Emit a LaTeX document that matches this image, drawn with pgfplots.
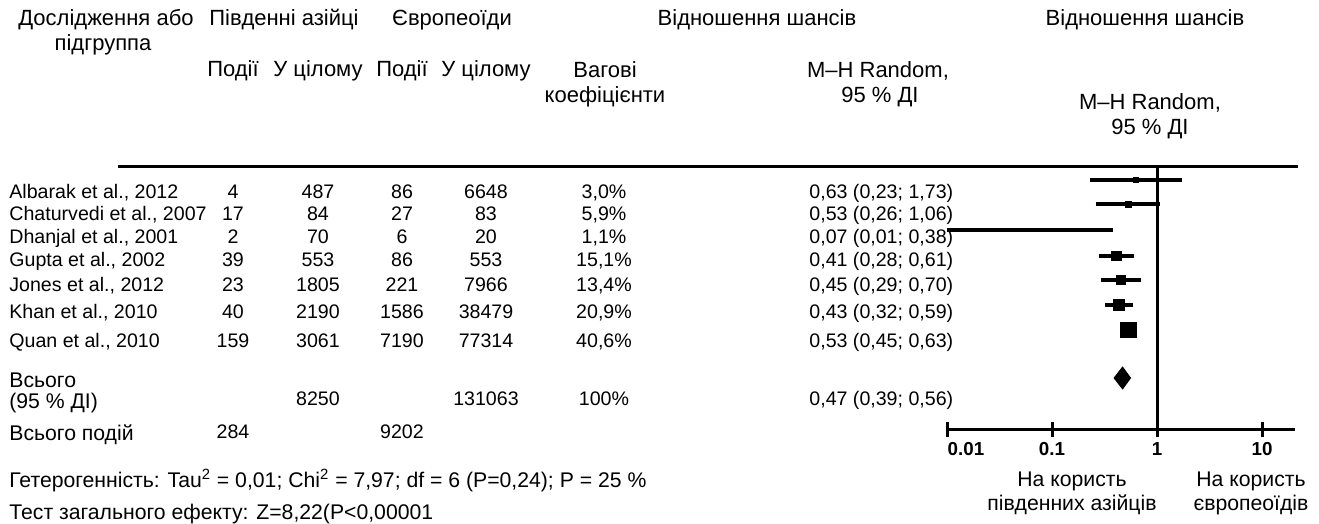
\documentclass[border=0pt]{standalone}
\usepackage{pgfplots}
\pgfplotsset{compat=1.18}
\usepackage{fontspec}
\setmainfont{Liberation Sans}

\begin{document}
\begin{tikzpicture}[x=0.5pt,y=-0.5pt,
  hd/.style={font=\fontsize{11}{13}\selectfont, inner sep=0pt},
  lb/.style={font=\fontsize{10.6}{12}\selectfont, inner sep=0pt},
  tx/.style={font=\fontsize{9.8}{11}\selectfont, inner sep=0pt}]
\path (0,0) rectangle (1319,523);

% column headers
\node[hd, anchor=mid] at (106,20) {Дослідження або};
\node[hd, anchor=mid] at (103,45) {підгруппа};
\node[hd, anchor=mid] at (284,20) {Південні азійці};
\node[hd, anchor=mid] at (452,20) {Європеоїди};
\node[hd, anchor=mid] at (757,20) {Відношення шансів};
\node[hd, anchor=mid] at (1145,20) {Відношення шансів};
\node[hd, anchor=mid] at (233,71) {Події};
\node[hd, anchor=mid] at (318,71) {У цілому};
\node[hd, anchor=mid] at (402,71) {Події};
\node[hd, anchor=mid] at (486,71) {У цілому};
\node[hd, anchor=mid] at (605,72) {Вагові};
\node[hd, anchor=mid] at (605,97) {коефіцієнти};
\node[hd, anchor=mid] at (878,72) {M--H Random,};
\node[hd, anchor=mid] at (880,97) {95 \% ДІ};
\node[hd, anchor=mid] at (1150,104) {M--H Random,};
\node[hd, anchor=mid] at (1150,129) {95 \% ДІ};

% study rows
\foreach \yy/\name/\ea/\ta/\eb/\tb/\wt/\orci in {
  193/{Albarak et al., 2012}/4/487/86/6648/{3,0\%}/{0,63 (0,23; 1,73)},
  215/{Chaturvedi et al., 2007}/17/84/27/83/{5,9\%}/{0,53 (0,26; 1,06)},
  238/{Dhanjal et al., 2001}/2/70/6/20/{1,1\%}/{0,07 (0,01; 0,38)},
  261/{Gupta et al., 2002}/39/553/86/553/{15,1\%}/{0,41 (0,28; 0,61)},
  286/{Jones et al., 2012}/23/1805/221/7966/{13,4\%}/{0,45 (0,29; 0,70)},
  313/{Khan et al., 2010}/40/2190/1586/38479/{20,9\%}/{0,43 (0,32; 0,59)},
  342/{Quan et al., 2010}/159/3061/7190/77314/{40,6\%}/{0,53 (0,45; 0,63)}}{
  \node[tx, anchor=mid west] at (9,\yy) {\name};
  \node[tx, anchor=mid] at (233,\yy) {\ea};
  \node[tx, anchor=mid] at (318,\yy) {\ta};
  \node[tx, anchor=mid] at (402,\yy) {\eb};
  \node[tx, anchor=mid] at (486,\yy) {\tb};
  \node[tx, anchor=mid] at (604,\yy) {\wt};
  \node[tx, anchor=mid west] at (809,\yy) {\orci};
}

% totals
\node[lb, anchor=mid west] at (9,382) {Всього};
\node[lb, anchor=mid west] at (9,403) {(95 \% ДІ)};
\node[tx, anchor=mid] at (318,400) {8250};
\node[tx, anchor=mid] at (486,400) {131063};
\node[tx, anchor=mid] at (604,400) {100\%};
\node[tx, anchor=mid west] at (809,400) {0,47 (0,39; 0,56)};
\node[lb, anchor=mid west] at (9,435) {Всього подій};
\node[tx, anchor=mid] at (233,433) {284};
\node[tx, anchor=mid] at (402,433) {9202};

% footnotes
\node[lb, anchor=mid west] at (9,482) {Гетерогенність: Tau\textsuperscript{2} = 0,01; Chi\textsuperscript{2} = 7,97; df = 6 (P=0,24); P = 25 \%};
\node[lb, anchor=mid west] at (9,514) {Тест загального ефекту: Z=8,22(P<0,00001};

% direction labels
\node[lb, anchor=mid] at (1072,481) {На користь};
\node[lb, anchor=mid] at (1072,505) {південних азійців};
\node[lb, anchor=mid] at (1251,481) {На користь};
\node[lb, anchor=mid] at (1251,505) {європеоїдів};

% table rule
\draw[line width=1.5pt] (118,167) -- (1298,167);

\coordinate (axSW) at (946,430);
\begin{axis}[
  at={(axSW)}, anchor=south west,
  scale only axis, width=174.5pt, height=131.5pt,
  xmode=log, xmin=0.00978, xmax=20.62,
  ymin=-430, ymax=-167,
  axis x line=bottom, axis y line=none,
  x axis line style={-, line width=1.5pt},
  xtick={0.01,0.1,1,10},
  xticklabels={{\hspace{19pt}0.01},0.1,1,10},
  xminorticks=false,
  tick align=center, major tick length=7.5pt,
  x tick style={line width=1.5pt, black},
  xticklabel style={font=\bfseries\fontsize{9.4}{11}\selectfont, yshift=1pt},
  clip=false,
  ci/.style={line width=2pt, black, no marks},
  pt/.style={only marks, mark=square*, mark options={draw=black, fill=black, line width=0.3pt}},
]
% line of no effect
\draw[line width=1.5pt] (axis cs:1,-167) -- (axis cs:1,-430);
% confidence intervals (OR 95% CI)
\addplot[ci] coordinates {(0.23,-180) (1.73,-180)};
\addplot[ci] coordinates {(0.26,-204) (1.06,-204)};
\addplot[ci] coordinates {(0.01,-230) (0.38,-230)};
\addplot[ci] coordinates {(0.28,-256) (0.61,-256)};
\addplot[ci] coordinates {(0.29,-280) (0.70,-280)};
\addplot[ci] coordinates {(0.32,-305) (0.59,-305)};
\addplot[ci] coordinates {(0.45,-330) (0.63,-330)};
% point estimates, box size growing with study weight
\addplot[pt, mark size=1.1pt] coordinates {(0.63,-180)};
\addplot[pt, mark size=1.5pt] coordinates {(0.53,-204)};
\addplot[pt, mark size=0.9pt] coordinates {(0.07,-230)};
\addplot[pt, mark size=2.4pt] coordinates {(0.41,-256)};
\addplot[pt, mark size=2.3pt] coordinates {(0.45,-280)};
\addplot[pt, mark size=2.8pt] coordinates {(0.43,-305)};
\addplot[pt, mark size=3.9pt] coordinates {(0.53,-330)};
% pooled estimate
\addplot[fill=black, draw=black] coordinates {(0.39,-378) (0.47,-367) (0.56,-378) (0.47,-389)} -- cycle;
\end{axis}
\end{tikzpicture}
\end{document}
